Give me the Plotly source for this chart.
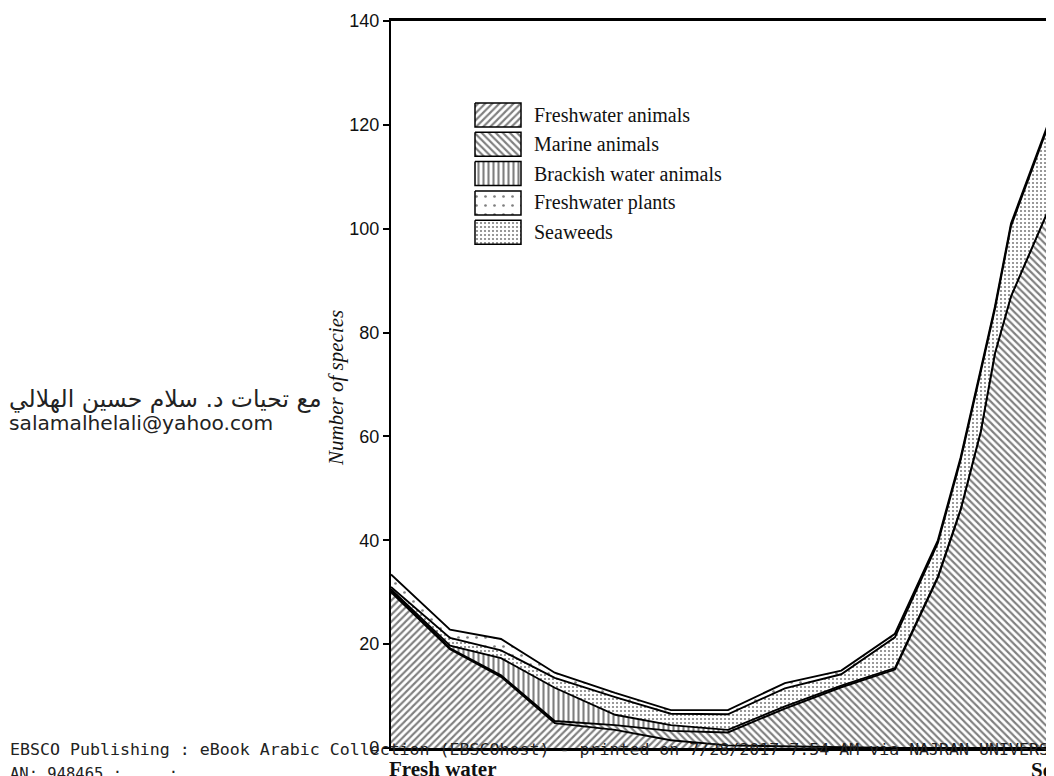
import plotly.graph_objects as go

# ---------------- data ----------------
# positions along the fresh-water -> sea gradient (0 = fresh water, 100 = right edge)
stations = [0, 8.8, 16.4, 24.4, 33.4, 41.7, 50.2, 58.7, 67.1, 75.1, 81.5, 84.9, 87.9, 90.0, 92.4, 100]

freshwater_animals = [30.0, 19.0, 13.7, 4.8, 3.5, 1.5, 0.5, 0.3, 0.2, 0, 0, 0, 0, 0, 0, 0]
marine_animals = [0.3, 0.2, 0.3, 0.4, 0.9, 1.8, 2.5, 7.3, 11.5, 15.1, 32.8, 45.9, 61.0, 76.0, 87.0, 109.7]
brackish_animals = [0.3, 0.5, 3.3, 6.4, 2.0, 1.1, 0.5, 0.4, 0.3, 0.3, 0.2, 0.1, 0, 0, 0, 0]
seaweeds = [0.4, 1.5, 1.5, 1.9, 3.4, 2.2, 3.0, 3.5, 2.2, 5.9, 6.5, 9.5, 11.5, 8.5, 13.5, 17.3]
freshwater_plants = [2.4, 1.6, 2.2, 1.0, 0.8, 0.7, 0.8, 1.0, 0.7, 0.7, 0.5, 0.5, 0.5, 0.5, 0.5, 0.4]

y_ticks = [0, 20, 40, 60, 80, 100, 120, 140]
legend_order = ["Freshwater animals", "Marine animals", "Brackish water animals",
                "Freshwater plants", "Seaweeds"]

# ---------------- styles ----------------
W, H = 1054, 776
PL, PR, PT, PB = 383, 1054, 13, 740   # plot area in pixels
SERIF = "Liberation Serif"

patterns = {
    "Freshwater animals": dict(shape="/", size=5, solidity=0.42),
    "Marine animals": dict(shape="\\", size=5, solidity=0.42),
    "Brackish water animals": dict(shape="|", size=5, solidity=0.42),
    "Seaweeds": dict(shape=".", size=4, solidity=0.22),
    "Freshwater plants": dict(shape=".", size=9, solidity=0.07),
}

series = [  # bottom -> top
    ("Freshwater animals", freshwater_animals),
    ("Marine animals", marine_animals),
    ("Brackish water animals", brackish_animals),
    ("Seaweeds", seaweeds),
    ("Freshwater plants", freshwater_plants),
]

def fp(name):
    p = patterns[name]
    return dict(shape=p["shape"], size=p["size"], solidity=p["solidity"],
                fgcolor="black", bgcolor="white", fillmode="overlay")

fig = go.Figure()
for name, vals in series:
    fig.add_trace(go.Scatter(
        x=stations, y=vals, name=name, stackgroup="s", mode="lines",
        line=dict(color="black", width=1.9), fillcolor="white",
        fillpattern=fp(name), showlegend=False, hoverinfo="skip"))

# ---------------- custom legend (boxed pattern swatches) ----------------
LX0, LW, LH, LTOP, LSTEP = 467, 46, 24, 95, 29.3
for i, name in enumerate(legend_order):
    y0 = LTOP + i * LSTEP
    fig.add_trace(go.Scatter(
        x=[LX0, LX0 + LW, LX0 + LW, LX0, LX0], y=[y0, y0, y0 + LH, y0 + LH, y0],
        xaxis="x2", yaxis="y2", mode="lines", fill="toself",
        line=dict(color="black", width=1.5), fillcolor="white",
        fillpattern=fp(name), showlegend=False, hoverinfo="skip"))

def px_x(px):
    return (px - PL) / (PR - PL)

def px_y(py):
    return (PB - py) / (PB - PT)

annotations = []
for i, name in enumerate(legend_order):
    annotations.append(dict(
        x=px_x(LX0 + LW + 11), y=px_y(LTOP + i * LSTEP + LH / 2), xref="paper", yref="paper",
        text=name, showarrow=False, xanchor="left", yanchor="middle",
        font=dict(family=SERIF, size=20, color="#111")))

annotations += [
    dict(x=px_x(328), y=px_y(380), xref="paper", yref="paper", text="<i>Number of species</i>",
         textangle=-90, showarrow=False, xanchor="center", yanchor="middle",
         font=dict(family=SERIF, size=21, color="#111")),
    dict(x=px_x(379), y=px_y(761), xref="paper", yref="paper", text="<b>Fresh water</b>",
         showarrow=False, xanchor="left", yanchor="middle",
         font=dict(family=SERIF, size=21, color="#111")),
    dict(x=px_x(1021), y=px_y(762), xref="paper", yref="paper", text="<b>Sea</b>",
         showarrow=False, xanchor="left", yanchor="middle",
         font=dict(family=SERIF, size=21, color="#111")),
    dict(x=px_x(-1), y=px_y(391), xref="paper", yref="paper",
         text="مع تحيات د. سلام حسين الهلالي",
         showarrow=False, xanchor="left", yanchor="middle",
         font=dict(family="DejaVu Sans", size=23.5, color="#222")),
    dict(x=px_x(-1), y=px_y(415), xref="paper", yref="paper",
         text="salamalhelali@yahoo.com",
         showarrow=False, xanchor="left", yanchor="middle",
         font=dict(family="DejaVu Sans", size=20.2, color="#222")),
    dict(x=px_x(0), y=px_y(742), xref="paper", yref="paper",
         text="EBSCO Publishing : eBook Arabic Collection (EBSCOhost) - printed on 7/28/2017 7:54 AM via NAJRAN UNIVERSITY",
         showarrow=False, xanchor="left", yanchor="middle",
         font=dict(family="DejaVu Sans Mono", size=16.6, color="#222")),
    dict(x=px_x(0), y=px_y(766), xref="paper", yref="paper",
         text="AN: 948465 ;\u00a0\u00a0\u00a0\u00a0\u00a0;",
         showarrow=False, xanchor="left", yanchor="middle",
         font=dict(family="DejaVu Sans Mono", size=15.5, color="#222")),
]

fig.update_layout(
    width=W, height=H,
    margin=dict(l=PL, r=W - PR, t=PT, b=H - PB, pad=0),
    paper_bgcolor="white", plot_bgcolor="white",
    showlegend=False,
    xaxis=dict(range=[0, 100], showgrid=False, zeroline=False, showticklabels=False,
               ticks="", showline=True, linecolor="black", linewidth=2.5, mirror=True),
    yaxis=dict(range=[0, 140], tickvals=y_ticks, showgrid=False, zeroline=False,
               showline=True, linecolor="black", linewidth=2.2,
               ticks="outside", ticklen=6, tickwidth=1.5, tickcolor="black",
               tickfont=dict(family="Liberation Sans", size=18, color="#111")),
    xaxis2=dict(range=[PL, PR], overlaying="x", visible=False),
    yaxis2=dict(range=[PB, PT], overlaying="y", visible=False),
    annotations=annotations,
)

fig.write_html("out.html")
